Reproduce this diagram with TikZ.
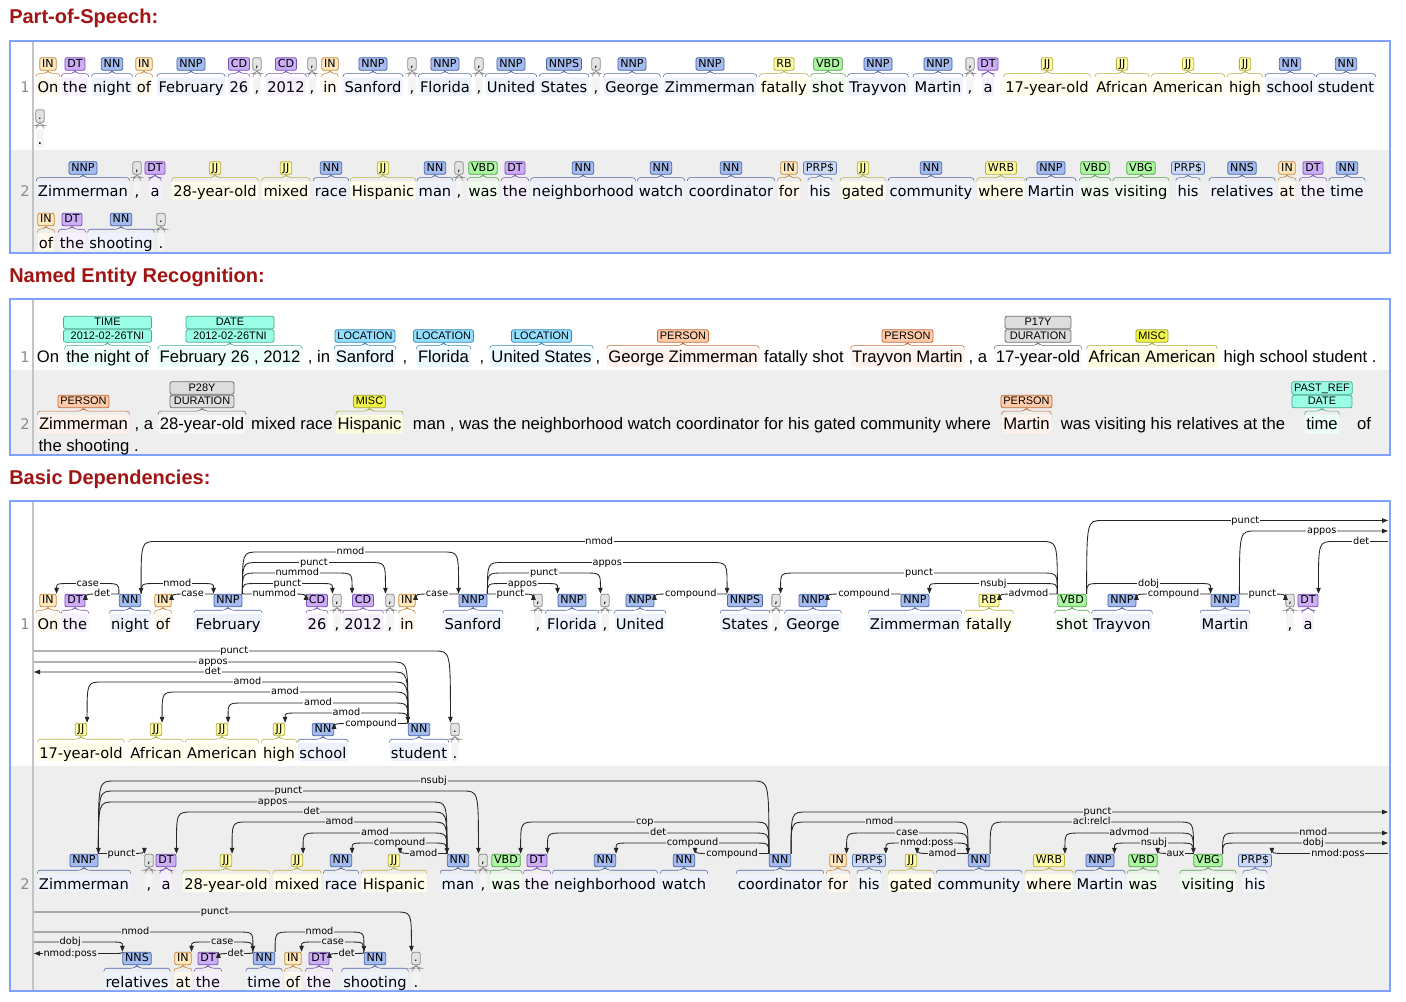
\documentclass[tikz,border=0pt]{standalone}
\usepackage{fontspec}
\setmainfont{DejaVu Sans}
\newfontfamily\nerfamily{Liberation Sans}
\newfontfamily\headfamily{Liberation Sans}
\usetikzlibrary{calc,arrows.meta}

\definecolor{hdred}{HTML}{A01414}
\definecolor{frame}{HTML}{7FA2FF}
\definecolor{rowbg}{HTML}{EEEEEE}
\definecolor{sepline}{HTML}{C4C4C4}
\definecolor{lineno}{HTML}{8C8C8C}
% tag classes: f = tag fill, d = border, w = word tint
\definecolor{nnf}{HTML}{A4BCED}\definecolor{nnd}{HTML}{4A66A8}\definecolor{nnw}{HTML}{EDF2FC}
\definecolor{inf}{HTML}{FFE8BE}\definecolor{ind}{HTML}{C8883C}\definecolor{inw}{HTML}{FFF8EC}
\definecolor{dtf}{HTML}{CCADF6}\definecolor{dtd}{HTML}{7A52B8}\definecolor{dtw}{HTML}{F6F0FE}
\definecolor{jjf}{HTML}{FFFDA8}\definecolor{jjd}{HTML}{B8AE3A}\definecolor{jjw}{HTML}{FFFEEA}
\definecolor{vbf}{HTML}{ADF6A2}\definecolor{vbd}{HTML}{4CA644}\definecolor{vbw}{HTML}{F0FDEE}
\definecolor{prf}{HTML}{CCDAF6}\definecolor{prd}{HTML}{5A76B8}\definecolor{prw}{HTML}{F3F6FD}
\definecolor{puf}{HTML}{E3E3E3}\definecolor{pud}{HTML}{8A8A8A}\definecolor{puw}{HTML}{F4F4F4}
% entity classes
\definecolor{tmf}{HTML}{9AFFE6}\definecolor{tmd}{HTML}{3FAF8F}\definecolor{tmw}{HTML}{EBFFF8}
\definecolor{lcf}{HTML}{95DFFF}\definecolor{lcd}{HTML}{2F86B5}\definecolor{lcw}{HTML}{EAF8FF}
\definecolor{psf}{HTML}{FFCCAA}\definecolor{psd}{HTML}{C4683A}\definecolor{psw}{HTML}{FFF2EA}
\definecolor{msf}{HTML}{F1F447}\definecolor{msd}{HTML}{A3A52A}\definecolor{msw}{HTML}{FCFCDF}
\definecolor{duf}{HTML}{DDDDDD}\definecolor{dud}{HTML}{6F6F6F}\definecolor{duw}{HTML}{F7F7F7}

\tikzset{
  sectitle/.style={font=\headfamily\bfseries\fontsize{15}{18}\selectfont, text=hdred, anchor=base west, inner sep=0pt},
  lno/.style={font=\fontsize{11}{13}\selectfont, text=lineno, anchor=base east, inner sep=0pt},
  wd/.style={font=\fontsize{11}{13}\selectfont, anchor=base, text height=10pt, text depth=1pt, inner xsep=1pt, inner ysep=1.3pt, rounded corners=1.5pt},
  tg/.style={font=\fontsize{8.3}{10}\selectfont, text height=6.3pt, text depth=1.2pt, inner xsep=1.8pt, inner ysep=1pt, rounded corners=1.5pt, line width=0.6pt},
  brc/.style={line width=0.4pt, rounded corners=2pt},
  nw/.style={font=\nerfamily\fontsize{12.5}{14}\selectfont, anchor=base, text height=9.5pt, text depth=2.5pt, inner xsep=1pt, inner ysep=1pt, rounded corners=1.5pt},
  nt/.style={font=\nerfamily\fontsize{8.2}{9}\selectfont, text height=6.2pt, text depth=1.3pt, inner xsep=1.8pt, inner ysep=0.9pt, rounded corners=1.5pt, line width=0.6pt},
  dep/.style={draw=black!85, line width=0.65pt, -{Triangle[length=4.5pt,width=3.4pt]}},
  lab/.style={font=\fontsize{7.3}{8}\selectfont, fill=white, inner sep=0.6pt, text height=5.4pt, text depth=1.4pt}
}

% token: name, class, tag, word, x, baseline
\newcommand{\tok}[6]{%
  \node[wd, fill=#2w] (#1w) at (#5,#6) {#4};
  \node[tg, fill=#2f, draw=#2d] (#1) at (#5,#6-28.5) {#3};
  \draw[brc, draw=#2d] (#1w.north west) |- ($(#1.south)+(-3,3)$) -- (#1.south) -- ($(#1.south)+(3,3)$) -| (#1w.north east);
}
% entity: name, class, text, x, baseline, tag y, tag
\newcommand{\ent}[7]{%
  \node[nw, fill=#2w] (#1) at (#4,#5) {#3};
  \node[nt, fill=#2f, draw=#2d] (#1t) at (#4,#6) {#7};
  \draw[brc, draw=#2d] (#1.north west) |- ($(#1t.south)+(-3,3)$) -- (#1t.south) -- ($(#1t.south)+(3,3)$) -| (#1.north east);
}
% entity with two stacked tags: ..., lower, upper, width
\newcommand{\entt}[9]{%
  \node[nw, fill=#2w] (#1) at (#4,#5) {#3};
  \node[nt, fill=#2f, draw=#2d, minimum width=#9] (#1t) at (#4,#6) {#7};
  \node[nt, fill=#2f, draw=#2d, minimum width=#9] (#1u) at (#4,#6-13.5) {#8};
  \draw[brc, draw=#2d] (#1.north west) |- ($(#1t.south)+(-3,3)$) -- (#1t.south) -- ($(#1t.south)+(3,3)$) -| (#1.north east);
}
% dependency arcs: head, dependent, level, label
\newcommand{\cw}{16}
\newcommand{\depR}[4]{\draw[dep] (#1.north east) .. controls (#1.north east |- 0,#3) .. ($(#1.north east |- 0,#3)+(\cw,0)$) -- node[lab]{#4} ($(#2.north west |- 0,#3)-(\cw,0)$) .. controls (#2.north west |- 0,#3) .. (#2.north west);}
\newcommand{\depL}[4]{\draw[dep] (#1.north west) .. controls (#1.north west |- 0,#3) .. ($(#1.north west |- 0,#3)-(\cw,0)$) -- node[lab]{#4} ($(#2.north east |- 0,#3)+(\cw,0)$) .. controls (#2.north east |- 0,#3) .. (#2.north east);}
\newcommand{\depOutR}[3]{\draw[dep] (#1.north east) .. controls (#1.north east |- #2) .. ($(#1.north east |- #2)+(\cw,0)$) -- node[lab]{#3} (#2);}
\newcommand{\depOutL}[3]{\draw[dep] (#1.north west) .. controls (#1.north west |- #2) .. ($(#1.north west |- #2)-(\cw,0)$) -- node[lab]{#3} (#2);}
\newcommand{\depInR}[3]{\draw[dep] (#1) -- node[lab]{#3} ($(#2.north east |- #1)+(\cw,0)$) .. controls (#2.north east |- #1) .. (#2.north east);}
\newcommand{\depInL}[3]{\draw[dep] (#1) -- node[lab]{#3} ($(#2.north west |- #1)-(\cw,0)$) .. controls (#2.north west |- #1) .. (#2.north west);}

\begin{document}
\begin{tikzpicture}[x=0.75pt, y=-0.75pt]
\useasboundingbox (0,0) rectangle (1406,1002);
\fill[white] (0,0) rectangle (1406,1002);

% section titles
\node[sectitle] (hpos) at (9,24) {Part-of-Speech:};
\node[sectitle] (hner) at (9,282) {Named Entity Recognition:};
\node[sectitle] (hdep) at (9,484) {Basic Dependencies:};

% panels
\fill[rowbg] (10,150) rectangle (1390,253);
\fill[rowbg] (10,370) rectangle (1390,455);
\fill[rowbg] (10,766) rectangle (1390,991);
\draw[sepline, line width=1.1pt] (33,41) -- (33,253);
\draw[sepline, line width=1.1pt] (33,299) -- (33,455);
\draw[sepline, line width=1.1pt] (33,501) -- (33,991);
\draw[frame, line width=0.8pt] (10,41) rectangle (1390,253);
\draw[frame, line width=0.8pt] (10,299) rectangle (1390,455);
\draw[frame, line width=0.8pt] (10,501) rectangle (1390,991);
\node[lno] (lp1) at (30,92.5) {1};
\node[lno] (lp2) at (30,196.5) {2};
\node[lno] (ln1) at (30,362.5) {1};
\node[lno] (ln2) at (30,429) {2};
\node[lno] (ld1) at (30,629) {1};
\node[lno] (ld2) at (30,889) {2};

% ---------------- part of speech
\tok{pa1}{in}{IN}{On}{48}{92.5}
\tok{pa2}{dt}{DT}{the}{75}{92.5}
\tok{pa3}{nn}{NN}{night}{112}{92.5}
\tok{pa4}{in}{IN}{of}{144}{92.5}
\tok{pa5}{nn}{NNP}{February}{191}{92.5}
\tok{pa6}{dt}{CD}{26}{239}{92.5}
\tok{pa7}{pu}{,}{,}{257}{92.5}
\tok{pa8}{dt}{CD}{2012}{286}{92.5}
\tok{pa9}{pu}{,}{,}{312}{92.5}
\tok{pa10}{in}{IN}{in}{330}{92.5}
\tok{pa11}{nn}{NNP}{Sanford}{373}{92.5}
\tok{pa12}{pu}{,}{,}{412}{92.5}
\tok{pa13}{nn}{NNP}{Florida}{445}{92.5}
\tok{pa14}{pu}{,}{,}{479}{92.5}
\tok{pa15}{nn}{NNP}{United}{511}{92.5}
\tok{pa16}{nn}{NNPS}{States}{564}{92.5}
\tok{pa17}{pu}{,}{,}{596}{92.5}
\tok{pa18}{nn}{NNP}{George}{632}{92.5}
\tok{pa19}{nn}{NNP}{Zimmerman}{710}{92.5}
\tok{pa20}{jj}{RB}{fatally}{784}{92.5}
\tok{pa21}{vb}{VBD}{shot}{828}{92.5}
\tok{pa22}{nn}{NNP}{Trayvon}{878}{92.5}
\tok{pa23}{nn}{NNP}{Martin}{938}{92.5}
\tok{pa24}{pu}{,}{,}{970}{92.5}
\tok{pa25}{dt}{DT}{a}{988}{92.5}
\tok{pa26}{jj}{JJ}{17-year-old}{1047}{92.5}
\tok{pa27}{jj}{JJ}{African}{1122}{92.5}
\tok{pa28}{jj}{JJ}{American}{1188}{92.5}
\tok{pa29}{jj}{JJ}{high}{1245}{92.5}
\tok{pa30}{nn}{NN}{school}{1290}{92.5}
\tok{pa31}{nn}{NN}{student}{1346}{92.5}
\tok{pa32}{pu}{.}{.}{40}{144.5}

\tok{pb1}{nn}{NNP}{Zimmerman}{83}{196.5}
\tok{pb2}{pu}{,}{,}{137}{196.5}
\tok{pb3}{dt}{DT}{a}{155}{196.5}
\tok{pb4}{jj}{JJ}{28-year-old}{215}{196.5}
\tok{pb5}{jj}{JJ}{mixed}{286}{196.5}
\tok{pb6}{nn}{NN}{race}{331}{196.5}
\tok{pb7}{jj}{JJ}{Hispanic}{383}{196.5}
\tok{pb8}{nn}{NN}{man}{435}{196.5}
\tok{pb9}{pu}{,}{,}{459}{196.5}
\tok{pb10}{vb}{VBD}{was}{483}{196.5}
\tok{pb11}{dt}{DT}{the}{515}{196.5}
\tok{pb12}{nn}{NN}{neighborhood}{583}{196.5}
\tok{pb13}{nn}{NN}{watch}{661}{196.5}
\tok{pb14}{nn}{NN}{coordinator}{731}{196.5}
\tok{pb15}{in}{IN}{for}{789}{196.5}
\tok{pb16}{pr}{PRP\$}{his}{820}{196.5}
\tok{pb17}{jj}{JJ}{gated}{863}{196.5}
\tok{pb18}{nn}{NN}{community}{931}{196.5}
\tok{pb19}{jj}{WRB}{where}{1001}{196.5}
\tok{pb20}{nn}{NNP}{Martin}{1051}{196.5}
\tok{pb21}{vb}{VBD}{was}{1095}{196.5}
\tok{pb22}{vb}{VBG}{visiting}{1141}{196.5}
\tok{pb23}{pr}{PRP\$}{his}{1188}{196.5}
\tok{pb24}{nn}{NNS}{relatives}{1242}{196.5}
\tok{pb25}{in}{IN}{at}{1287}{196.5}
\tok{pb26}{dt}{DT}{the}{1313}{196.5}
\tok{pb27}{nn}{NN}{time}{1347}{196.5}
\tok{pb28}{in}{IN}{of}{46}{248}
\tok{pb29}{dt}{DT}{the}{72}{248}
\tok{pb30}{nn}{NN}{shooting}{121}{248}
\tok{pb31}{pu}{.}{.}{161}{248}

% ---------------- named entities
\node[nw] (n1a) at (48,362.5) {On};
\entt{n1time}{tm}{the night of}{107.5}{362.5}{336}{2012-02-26TNI}{TIME}{66pt}
\entt{n1date}{tm}{February 26 , 2012}{230}{362.5}{336}{2012-02-26TNI}{DATE}{66pt}
\node[nw] (n1b) at (319,362.5) {, in};
\ent{n1loc1}{lc}{Sanford}{365}{362.5}{336}{LOCATION}
\node[nw] (n1c) at (405,362.5) {,};
\ent{n1loc2}{lc}{Florida}{443.5}{362.5}{336}{LOCATION}
\node[nw] (n1d) at (482,362.5) {,};
\ent{n1loc3}{lc}{United States}{541.5}{362.5}{336}{LOCATION}
\node[nw] (n1e) at (598,362.5) {,};
\ent{n1per1}{ps}{George Zimmerman}{683}{362.5}{336}{PERSON}
\node[nw] (n1f) at (804,362.5) {fatally shot};
\ent{n1per2}{ps}{Trayvon Martin}{907.5}{362.5}{336}{PERSON}
\node[nw] (n1g) at (978,362.5) {, a};
\entt{n1dur}{du}{17-year-old}{1038}{362.5}{336}{DURATION}{P17Y}{49.5pt}
\ent{n1misc}{ms}{African American}{1152}{362.5}{336}{MISC}
\node[nw] (n1h) at (1300,362.5) {high school student .};

\ent{n2per1}{ps}{Zimmerman}{83.5}{429}{401.5}{PERSON}
\node[nw] (n2a) at (144,429) {, a};
\entt{n2dur}{du}{28-year-old}{202}{429}{401.5}{DURATION}{P28Y}{48pt}
\node[nw] (n2b) at (292,429) {mixed race};
\ent{n2misc}{ms}{Hispanic}{369.5}{429}{401.5}{MISC}
\node[nw] (n2c) at (702,429) {man , was the neighborhood watch coordinator for his gated community where};
\ent{n2per2}{ps}{Martin}{1026.5}{429}{401.5}{PERSON}
\node[nw] (n2d) at (1173,429) {was visiting his relatives at the};
\entt{n2date}{tm}{time}{1322}{429}{401.5}{DATE}{PAST\_REF}{45pt}
\node[nw] (n2e) at (1364,429) {of};
\node[nw, anchor=base west] (n2f) at (37,451) {the shooting .};

% ---------------- dependencies, sentence 1
\tok{aOn}{in}{IN}{On}{48}{629}
\tok{aThe}{dt}{DT}{the}{75}{629}
\tok{aNight}{nn}{NN}{night}{130}{629}
\tok{aOf}{in}{IN}{of}{163}{629}
\tok{aFeb}{nn}{NNP}{February}{228}{629}
\tok{a26}{dt}{CD}{26}{317}{629}
\tok{aC1}{pu}{,}{,}{337}{629}
\tok{a2012}{dt}{CD}{2012}{363}{629}
\tok{aC2}{pu}{,}{,}{390}{629}
\tok{aIn}{in}{IN}{in}{407}{629}
\tok{aSanford}{nn}{NNP}{Sanford}{473}{629}
\tok{aC3}{pu}{,}{,}{538}{629}
\tok{aFlorida}{nn}{NNP}{Florida}{572}{629}
\tok{aC4}{pu}{,}{,}{605}{629}
\tok{aUnited}{nn}{NNP}{United}{640}{629}
\tok{aStates}{nn}{NNPS}{States}{745}{629}
\tok{aC5}{pu}{,}{,}{776}{629}
\tok{aGeorge}{nn}{NNP}{George}{813}{629}
\tok{aZimm}{nn}{NNP}{Zimmerman}{915}{629}
\tok{aFatally}{jj}{RB}{fatally}{989}{629}
\tok{aShot}{vb}{VBD}{shot}{1072}{629}
\tok{aTrayvon}{nn}{NNP}{Trayvon}{1122}{629}
\tok{aMartin}{nn}{NNP}{Martin}{1225}{629}
\tok{aC6}{pu}{,}{,}{1290}{629}
\tok{aA}{dt}{DT}{a}{1308}{629}
\tok{a17}{jj}{JJ}{17-year-old}{81}{758}
\tok{aAfrican}{jj}{JJ}{African}{156}{758}
\tok{aAmerican}{jj}{JJ}{American}{222}{758}
\tok{aHigh}{jj}{JJ}{high}{279}{758}
\tok{aSchool}{nn}{NN}{school}{323}{758}
\tok{aStudent}{nn}{NN}{student}{419}{758}
\tok{aDot}{pu}{.}{.}{455}{758}

\coordinate (e1p) at (1388,520.5);
\coordinate (e1a) at (1388,531);
\coordinate (e1d) at (1388,541.5);
\coordinate (e2p) at (34,651);
\coordinate (e2a) at (34,662);
\coordinate (e2d) at (34,672);

\depL{aNight}{aOn}{583.5}{case}
\depL{aNight}{aThe}{594}{det}
\depR{aNight}{aFeb}{583.5}{nmod}
\depL{aFeb}{aOf}{594}{case}
\depL{aShot}{aNight}{541.5}{nmod}
\depR{aFeb}{aSanford}{552}{nmod}
\depR{aFeb}{aC2}{562.5}{punct}
\depR{aFeb}{a2012}{573}{nummod}
\depR{aFeb}{aC1}{583.5}{punct}
\depR{aFeb}{a26}{594}{nummod}
\depL{aSanford}{aIn}{594}{case}
\depR{aSanford}{aStates}{562.5}{appos}
\depR{aSanford}{aC4}{573}{punct}
\depR{aSanford}{aFlorida}{583.5}{appos}
\depR{aSanford}{aC3}{594}{punct}
\depL{aStates}{aUnited}{594}{compound}
\depL{aShot}{aC5}{573}{punct}
\depL{aZimm}{aGeorge}{594}{compound}
\depL{aShot}{aZimm}{583.5}{nsubj}
\depL{aShot}{aFatally}{594}{advmod}
\depR{aShot}{aMartin}{583.5}{dobj}
\depL{aMartin}{aTrayvon}{594}{compound}
\depR{aMartin}{aC6}{594}{punct}
\depOutR{aShot}{e1p}{punct}
\depOutR{aMartin}{e1a}{appos}
\depInR{e1d}{aA}{det}

\depInL{e2p}{aDot}{punct}
\depInL{e2a}{aStudent}{appos}
\depOutL{aStudent}{e2d}{det}
\depL{aStudent}{a17}{682}{amod}
\depL{aStudent}{aAfrican}{692}{amod}
\depL{aStudent}{aAmerican}{703}{amod}
\depL{aStudent}{aHigh}{713}{amod}
\depL{aStudent}{aSchool}{723.5}{compound}

% ---------------- dependencies, sentence 2
\tok{bZimm}{nn}{NNP}{Zimmerman}{84}{889}
\tok{bC1}{pu}{,}{,}{149}{889}
\tok{bA}{dt}{DT}{a}{166}{889}
\tok{b28}{jj}{JJ}{28-year-old}{226}{889}
\tok{bMixed}{jj}{JJ}{mixed}{297}{889}
\tok{bRace}{nn}{NN}{race}{341}{889}
\tok{bHispanic}{jj}{JJ}{Hispanic}{394}{889}
\tok{bMan}{nn}{NN}{man}{458}{889}
\tok{bC2}{pu}{,}{,}{483}{889}
\tok{bWas}{vb}{VBD}{was}{506}{889}
\tok{bThe}{dt}{DT}{the}{537}{889}
\tok{bNeigh}{nn}{NN}{neighborhood}{605}{889}
\tok{bWatch}{nn}{NN}{watch}{684}{889}
\tok{bCoord}{nn}{NN}{coordinator}{780}{889}
\tok{bFor}{in}{IN}{for}{838}{889}
\tok{bHis}{pr}{PRP\$}{his}{869}{889}
\tok{bGated}{jj}{JJ}{gated}{911}{889}
\tok{bComm}{nn}{NN}{community}{979}{889}
\tok{bWhere}{jj}{WRB}{where}{1049}{889}
\tok{bMartin}{nn}{NNP}{Martin}{1100}{889}
\tok{bWas2}{vb}{VBD}{was}{1143}{889}
\tok{bVisiting}{vb}{VBG}{visiting}{1208}{889}
\tok{bHis2}{pr}{PRP\$}{his}{1255}{889}
\tok{bRel}{nn}{NNS}{relatives}{137}{987}
\tok{bAt}{in}{IN}{at}{183}{987}
\tok{bThe2}{dt}{DT}{the}{208}{987}
\tok{bTime}{nn}{NN}{time}{264}{987}
\tok{bOf}{in}{IN}{of}{293}{987}
\tok{bThe3}{dt}{DT}{the}{319}{987}
\tok{bShoot}{nn}{NN}{shooting}{375}{987}
\tok{bDot}{pu}{.}{.}{416}{987}

\coordinate (e3p) at (1388,812);
\coordinate (e3n) at (1388,833);
\coordinate (e3o) at (1388,843);
\coordinate (e3q) at (1388,853.5);
\coordinate (e4p) at (34,912);
\coordinate (e4n) at (34,932);
\coordinate (e4o) at (34,942);
\coordinate (e4q) at (34,953.5);

\begin{scope}[lab/.append style={fill=rowbg}]
\depL{bCoord}{bZimm}{781}{nsubj}
\depR{bZimm}{bC2}{791}{punct}
\depR{bZimm}{bMan}{802}{appos}
\depL{bMan}{bA}{812}{det}
\depL{bMan}{b28}{822}{amod}
\depL{bMan}{bMixed}{833}{amod}
\depL{bMan}{bRace}{843}{compound}
\depL{bMan}{bHispanic}{853.5}{amod}
\depR{bZimm}{bC1}{853.5}{punct}
\depL{bCoord}{bWas}{822}{cop}
\depL{bCoord}{bThe}{833}{det}
\depL{bCoord}{bNeigh}{843}{compound}
\depL{bCoord}{bWatch}{853.5}{compound}
\depOutR{bCoord}{e3p}{punct}
\depR{bCoord}{bComm}{822}{nmod}
\depL{bComm}{bFor}{833}{case}
\depL{bComm}{bHis}{843}{nmod:poss}
\depL{bComm}{bGated}{853.5}{amod}
\depR{bComm}{bVisiting}{822}{acl:relcl}
\depL{bVisiting}{bWhere}{833}{advmod}
\depL{bVisiting}{bMartin}{843}{nsubj}
\depL{bVisiting}{bWas2}{853.5}{aux}
\depOutR{bVisiting}{e3n}{nmod}
\depOutR{bVisiting}{e3o}{dobj}
\depInR{e3q}{bHis2}{nmod:poss}

\depInL{e4p}{bDot}{punct}
\depInL{e4n}{bTime}{nmod}
\depInL{e4o}{bRel}{dobj}
\depOutL{bRel}{e4q}{nmod:poss}
\depL{bTime}{bAt}{942}{case}
\depL{bTime}{bThe2}{953.5}{det}
\depR{bTime}{bShoot}{932}{nmod}
\depL{bShoot}{bOf}{942}{case}
\depL{bShoot}{bThe3}{953.5}{det}
\end{scope}
%
\end{tikzpicture}
\end{document}
